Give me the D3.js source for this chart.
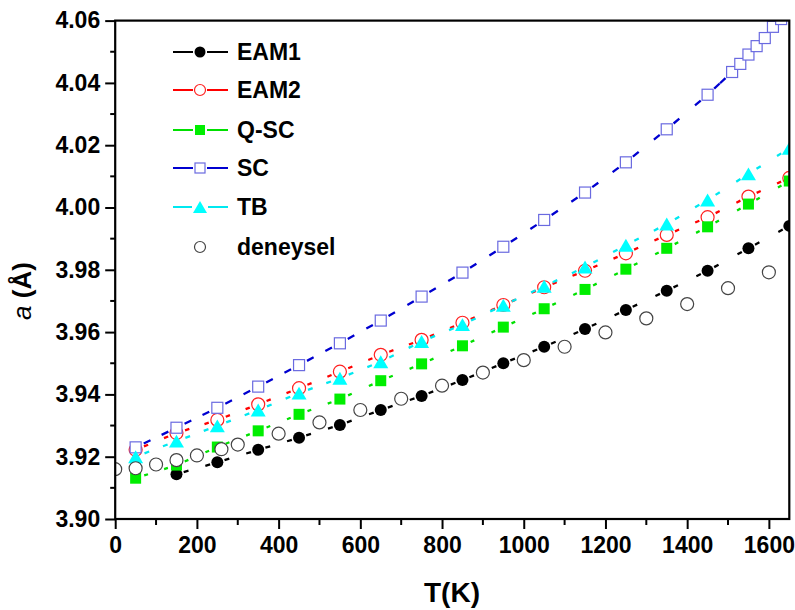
<!DOCTYPE html>
<html>
<head>
<meta charset="utf-8">
<script src="https://cdn.jsdelivr.net/npm/d3@7/dist/d3.min.js"></script>
<style>
  body { margin: 0; background: #fff; }
  text { font-family: "Liberation Sans", Arial, sans-serif; font-weight: bold; fill: #000; }
</style>
</head>
<body>
<div id="chart"></div>
<script>
// model temperatures (K)
var tModel = [50, 150, 250, 350, 450, 550, 650, 750, 850, 950, 1050, 1150, 1250, 1350, 1450, 1550, 1650];
var tEam1 = [150, 250, 350, 450, 550, 650, 750, 850, 950, 1050, 1150, 1250, 1350, 1450, 1550, 1650];
var tSc = [50, 150, 250, 350, 450, 550, 650, 750, 850, 950, 1050, 1150, 1250, 1350, 1450,
           1510, 1530, 1550, 1570, 1590, 1610, 1630];
var tExp = [0, 50, 100, 150, 200, 260, 300, 400, 500, 600, 700, 800, 900, 1000, 1100, 1200, 1300, 1400, 1500, 1600];

// lattice parameter a (Å)
var eam1 = [3.9144, 3.9182, 3.9222, 3.9261, 3.9302, 3.9350, 3.9395, 3.9446, 3.9500, 3.9553,
            3.9610, 3.9671, 3.9733, 3.9797, 3.9869, 3.9941];
var eam2 = [3.9222, 3.9276, 3.9318, 3.9368, 3.9420, 3.9473, 3.9527, 3.9575, 3.9630, 3.9687,
            3.9744, 3.9797, 3.9853, 3.9912, 3.9969, 4.0035, 4.0095];
var qsc  = [3.9131, 3.9173, 3.9231, 3.9283, 3.9336, 3.9385, 3.9444, 3.9498, 3.9556, 3.9616,
            3.9675, 3.9737, 3.9802, 3.9869, 3.9938, 4.0011, 4.0085];
var sc   = [3.9230, 3.9293, 3.9357, 3.9425, 3.9494, 3.9564, 3.9637, 3.9714, 3.9791, 3.9874,
            3.9960, 4.0048, 4.0145, 4.0251, 4.0362,
            4.0435, 4.0461, 4.0491, 4.0518, 4.0544, 4.0580, 4.0605];
var tb   = [3.9200, 3.9250, 3.9299, 3.9350, 3.9404, 3.9452, 3.9505, 3.9570, 3.9624, 3.9686,
            3.9747, 3.9809, 3.9879, 3.9947, 4.0024, 4.0108, 4.0190];
var deneysel = [3.9160, 3.9163, 3.9175, 3.9189, 3.9204, 3.9224, 3.9239, 3.9274, 3.9310, 3.9350,
                3.9386, 3.9428, 3.9470, 3.9510, 3.9553, 3.9599, 3.9644, 3.9690, 3.9741, 3.9792];

var xTicks = [0, 200, 400, 600, 800, 1000, 1200, 1400, 1600];
var xMinor = [100, 300, 500, 700, 900, 1100, 1300, 1500];
var yTicks = [3.90, 3.92, 3.94, 3.96, 3.98, 4.00, 4.02, 4.04, 4.06];
var yMinor = [3.91, 3.93, 3.95, 3.97, 3.99, 4.01, 4.03, 4.05];

var W = 795, H = 610;
var plotL = 115.2, plotR = 789.3, plotT = 20.6, plotB = 519;

var svg = d3.select("#chart").append("svg")
  .attr("width", W).attr("height", H);

var x = d3.scaleLinear().domain([0, 1650]).range([plotL, plotR]);
var y = d3.scaleLinear().domain([3.90, 4.06]).range([plotB, plotT]);

svg.append("clipPath").attr("id", "plotclip")
  .append("rect")
  .attr("x", plotL).attr("y", plotT)
  .attr("width", plotR - plotL).attr("height", plotB - plotT);

// series, drawn in this order (later ones on top)
var series = [
  { name: "EAM2", t: tModel, v: eam2, shape: "circle", size: 6.5, fill: "#fff", stroke: "#ff2020", sw: 1.2, line: "#ff0000", gap: 9, dash: 4.5 },
  { name: "EAM1", t: tEam1, v: eam1, shape: "circle", size: 6, fill: "#000", stroke: "#000", sw: 0, line: "#000", gap: 7.5, dash: 5 },
  { name: "Q-SC", t: tModel, v: qsc, shape: "square", size: 11, fill: "#00ee00", stroke: "none", sw: 0, line: "#00e000", gap: 9, dash: 4 },
  { name: "SC", t: tSc, v: sc, shape: "square", size: 11, fill: "#fff", stroke: "#6a6ae0", sw: 1.2, line: "#0000d0", gap: 9, dash: 7.5 },
  { name: "TB", t: tModel, v: tb, shape: "triangle", size: 15, fill: "#00ffff", stroke: "none", sw: 0, line: "#00e8f0", gap: 9.5, dash: 5 },
  { name: "deneysel", t: tExp, v: deneysel, shape: "circle", size: 6.5, fill: "#fff", stroke: "#444", sw: 1.2, line: null }
];

function drawMarker(g, s, cx, cy, sz) {
  var m;
  if (s.shape === "circle") {
    m = g.append("circle").attr("cx", cx).attr("cy", cy).attr("r", sz);
  } else if (s.shape === "square") {
    m = g.append("rect").attr("x", cx - sz / 2).attr("y", cy - sz / 2)
      .attr("width", sz).attr("height", sz);
  } else {
    var w = sz / 2, h = sz * 0.86 / 2;
    m = g.append("path").attr("d", "M" + cx + "," + (cy - h) + "L" + (cx + w) + "," + (cy + h) +
      "L" + (cx - w) + "," + (cy + h) + "Z");
  }
  m.attr("fill", s.fill).attr("stroke", s.stroke).attr("stroke-width", s.sw);
}

var plot = svg.append("g").attr("clip-path", "url(#plotclip)");

series.forEach(function (s) {
  var pts = s.t.map(function (t, i) { return [x(t), y(s.v[i])]; });
  var g = plot.append("g");
  if (s.line) {
    for (var i = 0; i < pts.length - 1; i++) {
      var p0 = pts[i], p1 = pts[i + 1];
      var L = Math.hypot(p1[0] - p0[0], p1[1] - p0[1]);
      var mid = L - 2 * s.gap - 2 * s.dash;
      if (mid < 0) continue;
      g.append("line")
        .attr("x1", p0[0]).attr("y1", p0[1]).attr("x2", p1[0]).attr("y2", p1[1])
        .attr("stroke", s.line).attr("stroke-width", 2.3)
        .attr("stroke-dasharray", [0, s.gap, s.dash, mid, s.dash, s.gap + 50].join(" "));
    }
  }
  pts.forEach(function (p) {
    drawMarker(g, s, p[0], p[1], s.size);
  });
});

// axes
var xAxis = d3.axisBottom(x).tickValues(xTicks).tickSize(10).tickSizeOuter(0).tickPadding(8)
  .tickFormat(d3.format("d"));
var yAxis = d3.axisLeft(y).tickValues(yTicks).tickSize(10).tickSizeOuter(0).tickPadding(5)
  .tickFormat(d3.format(".2f"));

var gx = svg.append("g").attr("transform", "translate(0," + plotB + ")").call(xAxis);
var gy = svg.append("g").attr("transform", "translate(" + plotL + ",0)").call(yAxis);

[gx, gy].forEach(function (g) {
  g.select(".domain").remove();
  g.selectAll(".tick line").attr("stroke", "#000").attr("stroke-width", 2);
  g.selectAll("text").style("font-size", "23px").attr("fill", "#000");
});

gx.selectAll(".minor").data(xMinor).enter().append("line")
  .attr("x1", function (d) { return x(d); }).attr("x2", function (d) { return x(d); })
  .attr("y1", 0).attr("y2", 6).attr("stroke", "#000").attr("stroke-width", 2);
gy.selectAll(".minor").data(yMinor).enter().append("line")
  .attr("y1", function (d) { return y(d); }).attr("y2", function (d) { return y(d); })
  .attr("x1", 0).attr("x2", -5).attr("stroke", "#000").attr("stroke-width", 2);

// frame
svg.append("rect")
  .attr("x", plotL).attr("y", plotT)
  .attr("width", plotR - plotL).attr("height", plotB - plotT)
  .attr("fill", "none").attr("stroke", "#000").attr("stroke-width", 2.2);

// axis titles
svg.append("text")
  .attr("x", 452).attr("y", 602)
  .attr("text-anchor", "middle")
  .style("font-size", "28px")
  .text("T(K)");

var yt = svg.append("text")
  .attr("transform", "translate(31,291) rotate(-90)")
  .attr("text-anchor", "middle")
  .style("font-size", "26px");
yt.append("tspan").style("font-style", "italic").style("font-weight", "normal").text("a");
yt.append("tspan").text(" (Å)");

// legend
var legendY = [52, 90, 130, 168, 207, 247];
var legendOrder = ["EAM1", "EAM2", "Q-SC", "SC", "TB", "deneysel"];
var legend = svg.append("g");
legendOrder.forEach(function (name, i) {
  var s = series.filter(function (d) { return d.name === name; })[0];
  var ly = legendY[i];
  var lg = legend.append("g");
  if (s.line) {
    var half = s.shape === "triangle" ? 7 : 6;
    lg.append("line").attr("x1", 173).attr("x2", 200 - half - 1).attr("y1", ly).attr("y2", ly)
      .attr("stroke", s.line).attr("stroke-width", 2);
    lg.append("line").attr("x1", 200 + half + 1).attr("x2", 228).attr("y1", ly).attr("y2", ly)
      .attr("stroke", s.line).attr("stroke-width", 2);
  }
  var sz = s.shape === "circle" ? 5.5 : (s.shape === "square" ? 10 : 14);
  drawMarker(lg, s, 200, ly, sz);
  lg.append("text").attr("x", 237).attr("y", ly + 8.4)
    .style("font-size", "23px").text(name);
});
</script>
</body>
</html>
